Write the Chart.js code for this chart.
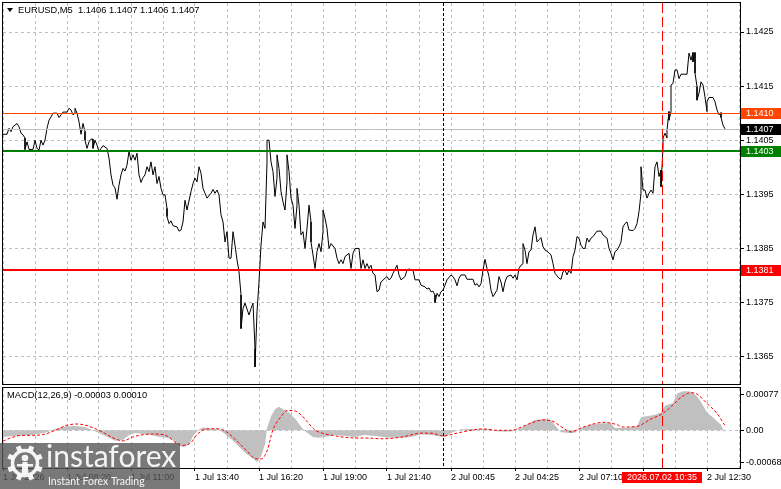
<!DOCTYPE html>
<html><head><meta charset="utf-8">
<script src="https://cdn.jsdelivr.net/npm/chart.js@4.4.1/dist/chart.umd.min.js"></script>
<style>
html,body{margin:0;padding:0;background:#fff;}
#wrap{position:relative;width:781px;height:489px;overflow:hidden;background:#fff;}
#c1{position:absolute;left:0;top:0;}
#c2{position:absolute;left:0;top:386px;}
</style></head><body>
<div id="wrap"><canvas id="c1" width="781" height="386"></canvas><canvas id="c2" width="781" height="103"></canvas></div>
<script>
// ---------- data (bar index = 5-minute bar number from the left edge) ----------
const priceBars = [
0,2,3,4,5,7,8,9,10,11,
11,12,13,15,16,17,18,19,20,21,
22,23,24,25,27,28,29,30,32,33,
34,35,36,36,37,38,39,40,41,41,
42,43,44,45,45,46,47,48,49,50,
52,53,54,55,56,57,58,59,60,61,
62,63,64,65,66,67,68,69,70,71,
72,73,74,75,76,77,78,79,80,81,
82,82,83,84,85,87,88,89,90,91,
92,94,95,96,97,98,99,100,101,102,
104,105,106,107,108,109,110,111,112,113,
114,115,116,117,118,119,119,120,121,123,
124,125,126,126,127,128,129,130,131,132,
132,133,134,135,136,137,137,138,139,140,
141,142,142,143,144,145,146,147,147,148,
149,150,151,152,153,154,154,155,156,157,
158,159,160,160,161,162,163,164,166,167,
168,169,170,171,173,174,175,176,178,179,
180,181,182,183,184,185,186,187,188,189,
191,192,193,194,195,197,198,199,201,202,
203,205,206,208,209,211,212,213,214,215,
216,216,217,218,219,220,221,222,224,225,
226,227,228,229,231,232,235,236,237,238,
239,240,241,242,243,244,245,247,248,249,
250,251,252,254,255,256,257,258,259,260,
260,261,262,263,264,265,266,267,268,269,
270,271,272,274,275,276,278,279,280,281,
282,283,284,285,286,287,288,289,290,291,
292,293,294,295,297,299,300,301,302,303,
304,305,306,307,308,309,310,311,312,313,
315,316,317,318,319,319,320,321,322,323,
324,325,326,327,328,329,329,330,330,331,
332,332,333,333,334,334,335,336,337,338,
339,342,343,344,345,345,346,346,347,347,
348,349,350,351,352,352,353,355,356,357,
358,359,359,360,361];
const priceCloses = [
1.14061,1.14061,1.14072,1.14066,1.14075,1.14081,1.14075,1.14063,1.14060,1.14054,
1.14033,1.14047,1.14033,1.14033,1.14050,1.14035,1.14032,1.14050,1.14041,1.14050,
1.14072,1.14087,1.14093,1.14100,1.14100,1.14092,1.14097,1.14102,1.14102,1.14109,
1.14106,1.14097,1.14100,1.14109,1.14100,1.14084,1.14061,1.14081,1.14066,1.14050,
1.14035,1.14047,1.14052,1.14052,1.14035,1.14050,1.14041,1.14029,1.14035,1.14040,
1.14035,1.14017,1.13986,1.13967,1.13962,1.13941,1.13967,1.13986,1.13998,1.13993,
1.14004,1.14029,1.14013,1.14023,1.14013,1.14026,1.13986,1.13972,1.13981,1.13986,
1.14001,1.13992,1.14010,1.13986,1.14001,1.13970,1.13983,1.13961,1.13949,1.13949,
1.13924,1.13909,1.13896,1.13901,1.13892,1.13890,1.13882,1.13884,1.13899,1.13939,
1.13921,1.13955,1.13970,1.13980,1.13973,1.14001,1.13989,1.13961,1.13952,1.13943,
1.13952,1.13959,1.13952,1.13958,1.13949,1.13912,1.13899,1.13862,1.13881,1.13832,
1.13832,1.13881,1.13856,1.13829,1.13807,1.13764,1.13702,1.13739,1.13749,1.13727,
1.13739,1.13749,1.13665,1.13631,1.13733,1.13788,1.13856,1.13899,1.13887,1.14010,
1.14050,1.14050,1.14010,1.13992,1.13946,1.13980,1.14023,1.13998,1.13955,1.13936,
1.13921,1.13973,1.14023,1.13992,1.13943,1.13930,1.13887,1.13930,1.13961,1.13930,
1.13875,1.13881,1.13850,1.13887,1.13930,1.13899,1.13862,1.13838,1.13813,1.13844,
1.13859,1.13844,1.13881,1.13921,1.13906,1.13887,1.13850,1.13859,1.13850,1.13832,
1.13822,1.13829,1.13822,1.13835,1.13841,1.13813,1.13841,1.13850,1.13850,1.13813,
1.13829,1.13813,1.13822,1.13813,1.13819,1.13804,1.13801,1.13770,1.13773,1.13788,
1.13795,1.13798,1.13792,1.13795,1.13804,1.13819,1.13801,1.13792,1.13798,1.13810,
1.13812,1.13810,1.13792,1.13792,1.13782,1.13779,1.13775,1.13777,1.13770,1.13771,
1.13764,1.13750,1.13767,1.13761,1.13770,1.13773,1.13782,1.13792,1.13801,1.13798,
1.13792,1.13781,1.13795,1.13801,1.13801,1.13793,1.13793,1.13782,1.13785,1.13779,
1.13785,1.13810,1.13830,1.13813,1.13798,1.13773,1.13761,1.13773,1.13798,1.13788,
1.13770,1.13788,1.13798,1.13801,1.13795,1.13801,1.13792,1.13813,1.13819,1.13822,
1.13859,1.13847,1.13822,1.13844,1.13847,1.13875,1.13890,1.13862,1.13866,1.13870,
1.13853,1.13847,1.13845,1.13838,1.13822,1.13804,1.13795,1.13793,1.13807,1.13810,
1.13801,1.13810,1.13804,1.13835,1.13847,1.13872,1.13869,1.13856,1.13850,1.13850,
1.13869,1.13862,1.13869,1.13872,1.13882,1.13882,1.13875,1.13872,1.13869,1.13850,
1.13841,1.13829,1.13844,1.13847,1.13853,1.13862,1.13890,1.13896,1.13899,1.13884,
1.13883,1.13887,1.13896,1.13918,1.13952,1.14001,1.13958,1.13958,1.13943,1.13952,
1.13958,1.13952,1.14001,1.14010,1.13983,1.13995,1.13964,1.14038,1.14054,1.14063,
1.14054,1.14069,1.14103,1.14087,1.14103,1.14152,1.14155,1.14180,1.14180,1.14164,
1.14172,1.14172,1.14211,1.14198,1.14212,1.14195,1.14212,1.14174,1.14149,1.14124,
1.14137,1.14158,1.14152,1.14130,1.14103,1.14121,1.14129,1.14129,1.14121,1.14106,
1.14097,1.14101,1.14092,1.14078,1.14071];

const macdBars = [0,6,14,21,26,31,36,41,45,49,53,56,60,63,66,70,74,78,82,85,
88,90,93,95,98,100,104,108,111,115,118,121,125,127,129,131,132,134,136,138,
140,143,146,149,151,155,158,161,166,171,176,181,186,191,194,199,204,209,214,217,
221,224,229,234,237,241,244,246,251,255,259,263,266,271,274,276,279,283,286,289,
294,299,304,306,311,317,319,326,329,331,335,337,340,343,345,347,349,352,355,359,360,361];
const macdMain = [-0.00014,-0.00012,-0.00010,-0.00005,0.00003,0.00008,0.00009,0.00007,0,-0.00008,
-0.00016,-0.00022,-0.00020,-0.00010,-0.00006,-0.00008,-0.00010,-0.00014,-0.00016,-0.00020,
-0.00032,-0.00036,-0.00030,-0.00012,0.00002,0.00006,0.00004,0.00002,-0.00008,-0.00022,
-0.00035,-0.00048,-0.00060,-0.00068,-0.00055,-0.00030,0.00005,0.00030,0.00045,0.00050,
0.00045,0.00038,0.00025,0.00008,-0.00002,-0.00014,-0.00016,-0.00014,-0.00010,-0.00012,
-0.00014,-0.00010,-0.00012,-0.00015,-0.00016,-0.00016,-0.00014,-0.00009,-0.00010,-0.00012,
-0.00014,-0.00006,0.00002,0.00003,0.00002,0.00003,0.00003,-0.00002,-0.00003,-0.00002,
0.00005,0.00015,0.00022,0.00024,0.00022,0.00010,-0.00004,-0.00006,-0.00005,0.00005,
0.00012,0.00015,0.00015,0.00005,0.00005,0.00008,0.00028,0.00033,0.00038,0.00052,
0.00058,0.00078,0.00083,0.00083,0.00080,0.00072,0.00060,0.00038,0.00027,0.00012,
0.00002,-0.00003];
const signalBars = [0,4,9,15,20,25,32,37,42,49,55,60,65,72,77,82,87,90,94,97,
102,107,112,117,122,126,129,132,135,139,142,145,149,152,156,160,165,174,182,190,
200,209,214,220,227,234,240,247,254,260,265,270,275,280,284,289,294,300,307,310,
317,324,330,334,339,344,347,352,357,361];
const signalValues = [-0.00023,-0.00016,-0.00011,-0.000106,-0.00009,-0.00002,0.000107,0.000134,0.000099,-0.00002,
-0.00016,-0.000225,-0.00014,-0.000085,-0.00008,-0.00012,-0.00028,-0.00032,-0.00026,-0.00009,
0.00003,0.000034,-0.00004,-0.00023,-0.00044,-0.00060,-0.00061,-0.00044,0.000014,0.00029,
0.00042,0.00042,0.00033,0.00019,0.000005,-0.000066,-0.00011,-0.00016,-0.000165,-0.00018,
-0.00014,-0.00006,-0.00006,-0.00012,-0.00006,0,0.00003,0,0,0.000084,
0.00017,0.00022,0.00019,0.00005,-0.000035,0.00005,0.00012,0.00017,0.00012,0.00007,
0.000084,0.00024,0.00036,0.00050,0.00070,0.00080,0.00077,0.00057,0.00036,0.00010];

const timeTickBars = [0,32,64,96,128,160,192,224,256,288,320,352];
const timeTickLabels = ['1 Jul 2026','1 Jul 08:20','1 Jul 11:00','1 Jul 13:40','1 Jul 16:20','1 Jul 19:00',
  '1 Jul 21:40','2 Jul 00:45','2 Jul 04:25','2 Jul 07:10','','2 Jul 12:30'];
const priceTicks = [1.1365,1.1375,1.1385,1.1395,1.1405,1.1415,1.1425];
const priceTickLabels = ['1.1365','1.1375','1.1385','1.1395','1.1405','1.1415','1.1425'];
const macdTicks = [-0.00068,0,0.00077];
const macdTickLabels = ['-0.00068','0.00','0.00077'];
const levelValues = [1.1410,1.1403,1.1381];
const levelLabels = ['1.1410','1.1403','1.1381'];
const bidValue = 1.1407;
const bidLabel = '1.1407';
const separatorBar = 220;
const cursorBar = 329.5;
const cursorLabel = '2026.07.02 10:35';
const headerText = 'EURUSD,M5  1.1406 1.1407 1.1406 1.1407';
const macdTitle = 'MACD(12,26,9) -0.00003 0.00010';

// ---------- styles ----------
const FONT = "'Liberation Sans', Arial, sans-serif";
const levelColors = ['#ff4500','#008000','#ff0000'];
const levelWidths = [1,2,2];
const GRID = '#c0c0c0';
const gridBars = [];
for (let b = 0; b <= 368; b += 16) gridBars.push(b);

const toPts = (xs, ys) => xs.map((x, i) => ({x: x, y: ys[i]}));
const noPad = s => { s.paddingTop = 0; s.paddingBottom = 0; s.paddingLeft = 0; s.paddingRight = 0; };

function hline(ctx, a, py, color, width) {
  ctx.save();
  ctx.beginPath(); ctx.setLineDash([]);
  ctx.strokeStyle = color; ctx.lineWidth = width;
  const yy = width % 2 ? Math.round(py) + 0.5 : Math.round(py);
  ctx.moveTo(a.left, yy); ctx.lineTo(a.right, yy); ctx.stroke();
  ctx.restore();
}
function vline(ctx, a, px, color, dash) {
  ctx.save();
  ctx.beginPath(); ctx.setLineDash(dash);
  ctx.strokeStyle = color; ctx.lineWidth = 1;
  const xx = Math.round(px) + 0.5;
  ctx.moveTo(xx, a.top); ctx.lineTo(xx, a.bottom); ctx.stroke();
  ctx.restore();
}
function tag(ctx, a, py, text, bg) {
  const h = 11, top = Math.round(py - h / 2);
  ctx.save();
  ctx.fillStyle = bg; ctx.fillRect(a.right + 1, top, 40, h);
  ctx.fillStyle = '#fff'; ctx.font = '9px ' + FONT;
  ctx.textBaseline = 'middle'; ctx.textAlign = 'left';
  ctx.fillText(text, a.right + 6, top + h / 2 + 0.5);
  ctx.restore();
}
function frame(ctx, a) {
  ctx.save(); ctx.setLineDash([]); ctx.strokeStyle = '#000'; ctx.lineWidth = 1;
  ctx.strokeRect(a.left - 0.5, a.top - 0.5, a.right - a.left + 1, a.bottom - a.top + 1);
  ctx.restore();
}

const mainDecor = {
  id: 'mainDecor',
  afterDatasetsDraw(chart) {
    const {ctx, chartArea: a, scales: {x, y}} = chart;
    hline(ctx, a, y.getPixelForValue(bidValue), '#c0c0c0', 1);
    levelValues.forEach((v, i) => hline(ctx, a, y.getPixelForValue(v), levelColors[i], levelWidths[i]));
    vline(ctx, a, x.getPixelForValue(separatorBar), '#000', [3, 2]);
    vline(ctx, a, x.getPixelForValue(cursorBar), '#ff0000', [10, 4]);
  },
  afterDraw(chart) {
    const {ctx, chartArea: a, scales: {y}} = chart;
    frame(ctx, a);
    ctx.save();
    ctx.fillStyle = '#000';
    ctx.beginPath(); ctx.moveTo(7, 8); ctx.lineTo(13, 8); ctx.lineTo(10, 12); ctx.closePath(); ctx.fill();
    ctx.font = '9.3px ' + FONT; ctx.textBaseline = 'middle'; ctx.textAlign = 'left';
    ctx.fillText(headerText, 18, 10.5);
    ctx.restore();
    tag(ctx, a, y.getPixelForValue(levelValues[0]), levelLabels[0], levelColors[0]);
    tag(ctx, a, y.getPixelForValue(bidValue), bidLabel, '#000');
    tag(ctx, a, y.getPixelForValue(levelValues[1]), levelLabels[1], levelColors[1]);
    tag(ctx, a, y.getPixelForValue(levelValues[2]), levelLabels[2], levelColors[2]);
  }
};

const macdDecor = {
  id: 'macdDecor',
  afterDatasetsDraw(chart) {
    const {ctx, chartArea: a, scales: {x}} = chart;
    vline(ctx, a, x.getPixelForValue(separatorBar), '#000', [3, 2]);
    vline(ctx, a, x.getPixelForValue(cursorBar), '#ff0000', [10, 4]);
  },
  afterDraw(chart) {
    const {ctx, chartArea: a, scales: {x}} = chart;
    frame(ctx, a);
    ctx.save();
    ctx.fillStyle = '#000'; ctx.font = '9.3px ' + FONT;
    ctx.textBaseline = 'middle'; ctx.textAlign = 'left';
    ctx.fillText(macdTitle, 7, 9.5);
    // cursor time box
    const px = Math.round(x.getPixelForValue(cursorBar));
    ctx.fillStyle = '#ff0000'; ctx.fillRect(px - 40, 86, 80, 11);
    ctx.fillStyle = '#fff'; ctx.textAlign = 'center'; ctx.font = '9px ' + FONT;
    ctx.fillText(cursorLabel, px, 92);
    // watermark
    ctx.fillStyle = 'rgba(88,88,88,0.8)'; ctx.fillRect(0, 57, 180, 46);
    const cx = 25, cy = 77;
    ctx.fillStyle = 'rgba(255,255,255,0.92)'; ctx.strokeStyle = 'rgba(255,255,255,0.92)';
    ctx.lineWidth = 3.5; ctx.beginPath(); ctx.arc(cx, cy, 12.5, 0, 2 * Math.PI); ctx.stroke();
    for (let k = 0; k < 8; k++) {
      ctx.save(); ctx.translate(cx, cy); ctx.rotate(k * Math.PI / 4 + Math.PI / 8);
      ctx.fillRect(-2.5, -18, 5, 5); ctx.restore();
    }
    ctx.beginPath(); ctx.arc(cx, cy - 5, 3.3, 0, 2 * Math.PI); ctx.fill();
    ctx.beginPath(); ctx.moveTo(cx - 2.5, cy - 1); ctx.lineTo(cx + 2.5, cy - 1);
    ctx.lineTo(cx + 3.5, cy + 11); ctx.lineTo(cx - 3.5, cy + 11); ctx.closePath(); ctx.fill();
    ctx.fillRect(cx - 8, cy + 1, 16, 2.5);
    ctx.textAlign = 'left'; ctx.textBaseline = 'alphabetic';
    ctx.font = '30px Lato, ' + FONT;
    ctx.fillText('instaforex', 46, 81);
    ctx.font = '10.5px Lato, ' + FONT;
    ctx.fillText('Instant Forex Trading', 48, 99);
    ctx.restore();
  }
};

const common = {
  responsive: false, animation: false, devicePixelRatio: 1, events: [],
  plugins: {legend: {display: false}, tooltip: {enabled: false}}
};

new Chart(document.getElementById('c1'), {
  type: 'line',
  data: {datasets: [{data: toPts(priceBars, priceCloses), borderColor: '#000', borderWidth: 1,
    pointRadius: 0, tension: 0, fill: false}]},
  options: Object.assign({}, common, {
    layout: {padding: {left: 3, top: 3, right: 0, bottom: 2}},
    scales: {
      x: {type: 'linear', min: 0, max: 368.5,
        afterBuildTicks: s => { s.ticks = gridBars.map(v => ({value: v})); },
        afterFit: s => { s.height = 0; noPad(s); },
        ticks: {display: false},
        grid: {color: GRID, lineWidth: 1, drawTicks: false},
        border: {display: true, color: '#000', dash: [3, 3]}},
      y: {position: 'right', min: 1.135995, max: 1.143036,
        afterBuildTicks: s => { s.ticks = priceTicks.map(v => ({value: v})); },
        afterFit: s => { s.width = 41; noPad(s); },
        ticks: {font: {family: FONT, size: 9}, color: '#000', padding: 2,
          callback: (v, i) => priceTickLabels[i]},
        grid: {color: GRID, lineWidth: 1, drawTicks: true, tickLength: 4, tickColor: '#000', tickBorderDash: []},
        border: {display: true, color: '#000', dash: [3, 3]}}
    }
  }),
  plugins: [mainDecor]
});

new Chart(document.getElementById('c2'), {
  type: 'line',
  data: {datasets: [
    {data: toPts(signalBars, signalValues), borderColor: '#ff0000', borderWidth: 1, borderDash: [3, 2],
      pointRadius: 0, cubicInterpolationMode: 'monotone', fill: false, order: 0},
    {data: toPts(macdBars, macdMain), borderColor: 'rgba(0,0,0,0)', borderWidth: 0, backgroundColor: '#c0c0c0',
      pointRadius: 0, tension: 0, fill: 'origin', order: 1}
  ]},
  options: Object.assign({}, common, {
    layout: {padding: {left: 3, top: 2, right: 0, bottom: 0}},
    scales: {
      x: {type: 'linear', min: 0, max: 368.5,
        afterBuildTicks: s => { s.ticks = gridBars.map(v => ({value: v})); },
        afterFit: s => { s.height = 21; noPad(s); },
        ticks: {autoSkip: false, maxRotation: 0, minRotation: 0, align: 'start', padding: 1,
          font: {family: FONT, size: 9}, color: '#000',
          callback: v => { const i = timeTickBars.indexOf(v); return i >= 0 ? timeTickLabels[i] : ''; }},
        grid: {color: GRID, lineWidth: 1, drawTicks: true, tickLength: 3, tickBorderDash: [],
          tickColor: c => (c.tick && timeTickBars.indexOf(c.tick.value) >= 0) ? '#000' : 'rgba(0,0,0,0)'},
        border: {display: true, color: '#000', dash: [3, 3]}},
      y: {position: 'right', min: -0.000802, max: 0.0009,
        afterBuildTicks: s => { s.ticks = macdTicks.map(v => ({value: v})); },
        afterFit: s => { s.width = 41; noPad(s); },
        ticks: {font: {family: FONT, size: 9}, color: '#000', padding: 2,
          callback: (v, i) => macdTickLabels[i]},
        grid: {lineWidth: 1, drawTicks: true, tickLength: 4, tickColor: '#000', tickBorderDash: [],
          color: c => (c.tick && c.tick.value === 0) ? GRID : 'rgba(0,0,0,0)'},
        border: {display: true, color: '#000', dash: [3, 3]}}
    }
  }),
  plugins: [macdDecor]
});
</script>
</body></html>
